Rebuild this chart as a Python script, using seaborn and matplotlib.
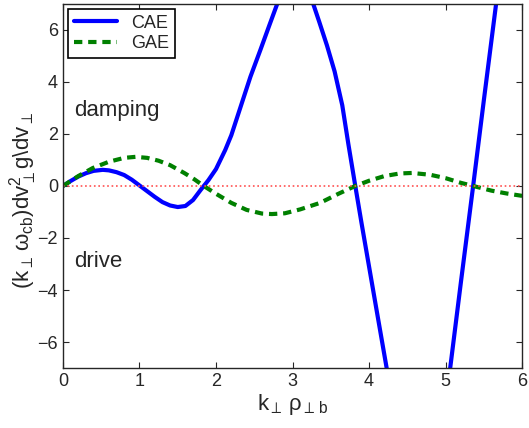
import numpy as np
import pandas as pd
import matplotlib
matplotlib.use("Agg")
import matplotlib.pyplot as plt
import seaborn as sns

# CAE curve
cae_x = [0.0, 0.1, 0.2, 0.3, 0.4, 0.52, 0.6, 0.7, 0.8, 0.9, 1.0, 1.1, 1.2, 1.3, 1.4,
         1.5, 1.6, 1.7, 1.8, 1.9, 2.0, 2.12, 2.2, 2.35, 2.45, 2.58, 2.7, 2.8, 2.9, 3.0,
         3.1, 3.2, 3.27, 3.35, 3.45, 3.55, 3.65, 3.73, 3.82, 3.9, 4.0, 4.1, 4.23, 4.35,
         4.5, 4.65, 4.8, 4.95, 5.06, 5.2, 5.36, 5.5, 5.66, 5.8]
cae_y = [0.0, 0.19, 0.36, 0.49, 0.58, 0.62, 0.6, 0.53, 0.42, 0.24, 0.02, -0.2, -0.42,
         -0.62, -0.75, -0.81, -0.77, -0.54, -0.15, 0.22, 0.65, 1.38, 1.95, 3.3, 4.2,
         5.23, 6.2, 7.0, 7.55, 7.8, 7.7, 7.35, 7.0, 6.3, 5.4, 4.4, 3.1, 1.6, 0.0, -1.4,
         -3.1, -4.8, -7.0, -8.8, -10.4, -11.0, -10.4, -8.6, -7.0, -3.7, 0.0, 3.3, 7.0,
         10.0]

# GAE curve
gae_x = [0.0, 0.2, 0.39, 0.6, 0.8, 0.95, 1.1, 1.25, 1.4, 1.59, 1.72, 1.84, 2.0, 2.2,
         2.4, 2.6, 2.73, 2.9, 3.1, 3.36, 3.6, 3.82, 4.0, 4.2, 4.4, 4.56, 4.8, 5.0, 5.2,
         5.36, 5.6, 5.8, 6.0]
gae_y = [0.0, 0.38, 0.69, 0.93, 1.08, 1.12, 1.08, 0.97, 0.8, 0.49, 0.25, 0.0, -0.3,
         -0.65, -0.92, -1.06, -1.08, -1.05, -0.9, -0.65, -0.3, 0.0, 0.2, 0.38, 0.48,
         0.5, 0.43, 0.3, 0.12, 0.0, -0.18, -0.29, -0.38]

cae = pd.DataFrame({"k": cae_x, "val": cae_y})
gae = pd.DataFrame({"k": gae_x, "val": gae_y})

sns.set_style("ticks")
plt.rcParams["font.family"] = ["Liberation Sans", "DejaVu Sans"]
plt.rcParams["mathtext.fontset"] = "custom"
plt.rcParams["mathtext.rm"] = "Liberation Sans"
plt.rcParams["mathtext.it"] = "Liberation Sans"

fig = plt.figure(figsize=(5.29, 4.28), dpi=100)
ax = fig.add_axes([0.119, 0.14, 0.868, 0.851])

sns.lineplot(data=cae, x="k", y="val", ax=ax, color="#0000ff", lw=3, label="CAE")
sns.lineplot(data=gae, x="k", y="val", ax=ax, color="#008000", lw=3, label="GAE")
ax.lines[-1].set_dashes((2.0, 1.4))
ax.axhline(0, color="#ff5050", ls=":", lw=1.2)

ax.set_xlim(0, 6)
ax.set_ylim(-7, 7)
ax.set_xticks(range(0, 7))
ax.set_yticks(range(-6, 7, 2))
ax.tick_params(direction="in", top=True, right=True, labelsize=13, length=4, width=0.8)
for s in ax.spines.values():
    s.set_visible(True)
    s.set_linewidth(1)

ax.set_xlabel(r"k$_{\perp}\,\rho_{\perp\,\mathrm{b}}$", fontsize=16)
ax.xaxis.set_label_coords(0.5, -0.066)
ax.set_ylabel("(k$_{\\perp}\\,\\omega_{\\mathrm{cb}}$)dv$_{\\perp}^{2}$g\\dv$_{\\perp}$",
              fontsize=16)
ax.yaxis.set_label_coords(-0.052, 0.46)

ax.text(0.15, 2.9, "damping", fontsize=16, va="center")
ax.text(0.15, -2.9, "drive", fontsize=16, va="center")

leg = ax.legend(loc="upper left", fontsize=13, frameon=True, fancybox=False,
                framealpha=1, edgecolor="black", handlelength=2.4,
                borderaxespad=0.3, borderpad=0.3, labelspacing=0.2)
leg.get_frame().set_linewidth(1.2)

fig.savefig("out.png", dpi=100)
